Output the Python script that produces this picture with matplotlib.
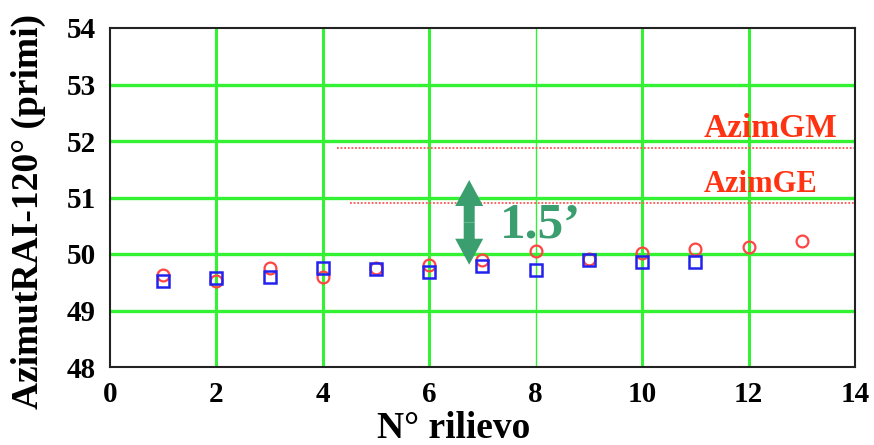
import matplotlib
matplotlib.use("Agg")
import matplotlib.pyplot as plt

# Data
x_circ = [1, 2, 3, 4, 5, 6, 7, 8, 9, 10, 11, 12, 13]
y_circ = [49.62, 49.52, 49.76, 49.60, 49.76, 49.81, 49.90, 50.05, 49.91, 50.01, 50.08, 50.13, 50.23]
x_sq = [1, 2, 3, 4, 5, 6, 7, 8, 9, 10, 11]
y_sq = [49.53, 49.57, 49.59, 49.76, 49.73, 49.68, 49.79, 49.72, 49.90, 49.86, 49.86]
azim_gm = 51.88
azim_ge = 50.90
gm_start, ge_start = 4.27, 4.51
arrow_x, arrow_lo, arrow_hi = 6.75, 49.81, 51.31
xticks = [0, 2, 4, 6, 8, 10, 12, 14]
yticks = [48, 49, 50, 51, 52, 53, 54]

serif = ['Liberation Serif', 'DejaVu Serif']
green = '#33f233'
agreen = '#3a9e6e'
red = '#ff3311'

fig = plt.figure(figsize=(8.74, 4.45), dpi=100)
ax = fig.add_axes([110/874, 1-367/445, (855-110)/874, (367-28)/445])
ax.set_xlim(0, 14)
ax.set_ylim(48, 54)

# grid
for xv in xticks[1:-1]:
    ax.axvline(xv, color=green, lw=1.0 if xv == 8 else 2.2, zorder=1)
for yv in yticks[1:-1]:
    ax.axhline(yv, color=green, lw=2.4, zorder=1)

# reference dotted lines
ax.plot([gm_start, 14], [azim_gm, azim_gm], color='#ff5555', ls=(0, (1, 1)), lw=1.3, zorder=2)
ax.plot([ge_start, 14], [azim_ge, azim_ge], color='#ff5555', ls=(0, (1, 1)), lw=1.3, zorder=2)

# data points
ax.plot(x_circ, y_circ, ls='none', marker='o', ms=8.5, mfc='none', mec='#ff4444', mew=1.6, zorder=3)
ax.plot(x_sq, y_sq, ls='none', marker='s', ms=8, mfc='none', mec='#2222ee', mew=1.8, zorder=4)

# double arrow
mid = (arrow_lo + arrow_hi) / 2
pxx = 745/14
pxy = 339/6
for end in (arrow_hi, arrow_lo):
    ax.arrow(arrow_x, mid, 0, end - mid, width=11/pxx, head_width=28/pxx,
             head_length=26/pxy, length_includes_head=True, color=agreen, lw=0, zorder=5)
ax.text(7.33, 50.29, '1.5’', family=serif, fontweight='bold', fontsize=37, color=agreen,
        ha='left', va='baseline', zorder=5)

ax.text(13.66, 52.07, 'AzimGM', family=serif, fontweight='bold', fontsize=24, color=red,
        ha='right', va='baseline')
ax.text(13.29, 51.10, 'AzimGE', family=serif, fontweight='bold', fontsize=22, color=red,
        ha='right', va='baseline')

ax.set_xticks(xticks)
ax.set_yticks(yticks)
ax.tick_params(length=0, pad=10)
for lab in ax.get_xticklabels() + ax.get_yticklabels():
    lab.set_family(serif)
    lab.set_fontweight('bold')
    lab.set_fontsize(21)
for s in ax.spines.values():
    s.set_color('#222222')
    s.set_linewidth(1.5)

ax.set_xlabel('N° rilievo', family=serif, fontweight='bold', fontsize=27)
ax.xaxis.set_label_coords((454-110)/745, -(438-367)/339, transform=ax.transAxes)
ax.xaxis.label.set_va('baseline')
ax.set_ylabel('AzimutRAI-120° (primi)', family=serif, fontweight='bold', fontsize=27)
ax.yaxis.set_label_coords(-(110-28)/745, (367-211.5)/339, transform=ax.transAxes)
ax.yaxis.label.set_va('center')

fig.savefig('out.png', dpi=100)
